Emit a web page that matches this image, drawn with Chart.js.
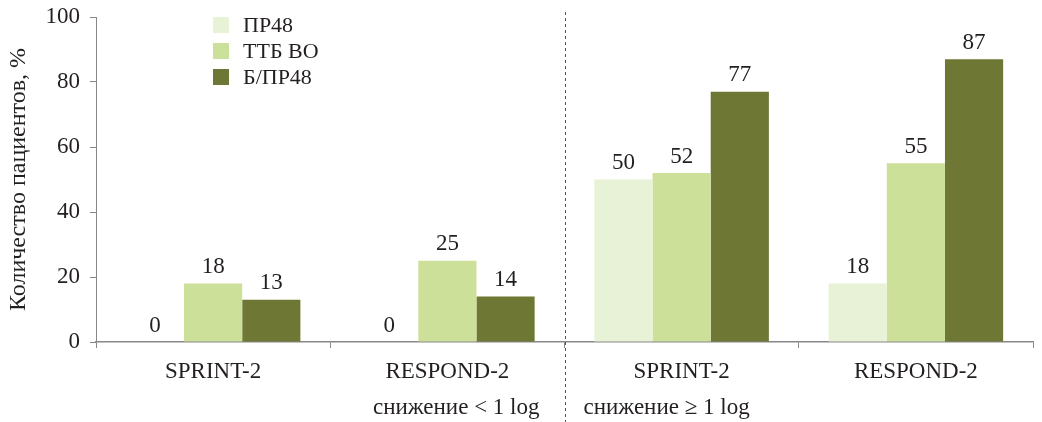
<!DOCTYPE html>
<html>
<head>
<meta charset="utf-8">
<script src="https://cdn.jsdelivr.net/npm/chart.js@4/dist/chart.umd.min.js"></script>
<style>
  html, body { margin: 0; padding: 0; background: #fff; }
  #wrap { width: 1042px; height: 422px; position: relative; }
</style>
</head>
<body>
<div id="wrap"><canvas id="myChart"></canvas></div>
<script>
// data
const categories = ['SPRINT-2', 'RESPOND-2', 'SPRINT-2', 'RESPOND-2'];
const groupLabels = ['снижение < 1 log', 'снижение ≥ 1 log'];
const seriesNames = ['ПР48', 'ТТБ ВО', 'Б/ПР48'];
const pr48 = [0, 0, 50, 18];
const ttbVo = [18, 25, 52, 55];
const bpr48 = [13, 14, 77, 87];
const yTicks = [0, 20, 40, 60, 80, 100];

const colors = ['#e8f2d6', '#cce09a', '#6e7733'];
const serif = "'Liberation Serif', 'DejaVu Serif', serif";
const textColor = '#231f20';

// value labels above the bars
const valueLabels = {
  id: 'valueLabels',
  afterDatasetsDraw(chart) {
    const ctx = chart.ctx;
    ctx.save();
    ctx.font = '23px ' + serif;
    ctx.fillStyle = textColor;
    ctx.textAlign = 'center';
    ctx.textBaseline = 'bottom';
    chart.data.datasets.forEach((ds, i) => {
      chart.getDatasetMeta(i).data.forEach((bar, j) => {
        ctx.fillText(ds.data[j], bar.x, bar.y - 5);
      });
    });
    ctx.restore();
  }
};

// dashed divider, group captions and legend
const extras = {
  id: 'extras',
  afterDraw(chart) {
    const ctx = chart.ctx;
    const x = chart.scales.x;
    const mid = (x.getPixelForValue(1) + x.getPixelForValue(2)) / 2;
    ctx.save();
    ctx.strokeStyle = '#555';
    ctx.lineWidth = 1;
    ctx.setLineDash([3, 3]);
    ctx.beginPath();
    ctx.moveTo(Math.round(mid) + 0.5, 12);
    ctx.lineTo(Math.round(mid) + 0.5, 422);
    ctx.stroke();
    ctx.setLineDash([]);

    ctx.font = '23px ' + serif;
    ctx.fillStyle = textColor;
    ctx.textBaseline = 'middle';
    ctx.textAlign = 'right';
    ctx.fillText(groupLabels[0], mid - 25, 408);
    ctx.textAlign = 'left';
    ctx.fillText(groupLabels[1], mid + 19, 408);

    // legend
    ctx.font = '22px ' + serif;
    chart.data.datasets.forEach((ds, i) => {
      const cy = 25 + i * 26;
      ctx.fillStyle = ds.backgroundColor;
      ctx.fillRect(213, cy - 8, 16, 16);
      ctx.fillStyle = textColor;
      ctx.fillText(ds.label, 243, cy + 1);
    });
    ctx.restore();
  }
};

const chartSelect = document.getElementById('myChart');

new Chart(chartSelect, {
  type: 'bar',
  data: {
    labels: categories,
    datasets: [
      { label: seriesNames[0], data: pr48, backgroundColor: colors[0] },
      { label: seriesNames[1], data: ttbVo, backgroundColor: colors[1] },
      { label: seriesNames[2], data: bpr48, backgroundColor: colors[2] }
    ]
  },
  options: {
    responsive: true,
    maintainAspectRatio: false,
    animation: false,
    layout: { padding: { left: 0, right: 9, top: 17, bottom: 0 } },
    datasets: { bar: { categoryPercentage: 0.745, barPercentage: 1.0 } },
    plugins: {
      legend: { display: false },
      tooltip: { enabled: false }
    },
    scales: {
      x: {
        grid: { display: true, drawOnChartArea: false, drawTicks: true, tickLength: 6, color: '#888', offset: true },
        border: { display: true, color: '#888', width: 1.5 },
        ticks: { font: { family: serif, size: 23 }, color: textColor, padding: 10 },
        afterFit(scale) { scale.height = 80; }
      },
      y: {
        min: 0,
        max: 100,
        afterBuildTicks(scale) { scale.ticks = yTicks.map(v => ({ value: v })); },
        grid: { display: true, drawOnChartArea: false, drawTicks: true, tickLength: 6, color: '#888' },
        border: { display: true, color: '#888', width: 1 },
        ticks: { font: { family: serif, size: 23 }, color: textColor, padding: 10 },
        title: {
          display: true,
          text: 'Количество пациентов, %',
          font: { family: serif, size: 24 },
          color: textColor,
          padding: { top: 4, bottom: 2 }
        },
        afterFit(scale) {
          scale.width = 96;
          scale.paddingTop = 0;
          scale.paddingBottom = 0;
        }
      }
    }
  },
  plugins: [valueLabels, extras]
});
</script>
</body>
</html>
